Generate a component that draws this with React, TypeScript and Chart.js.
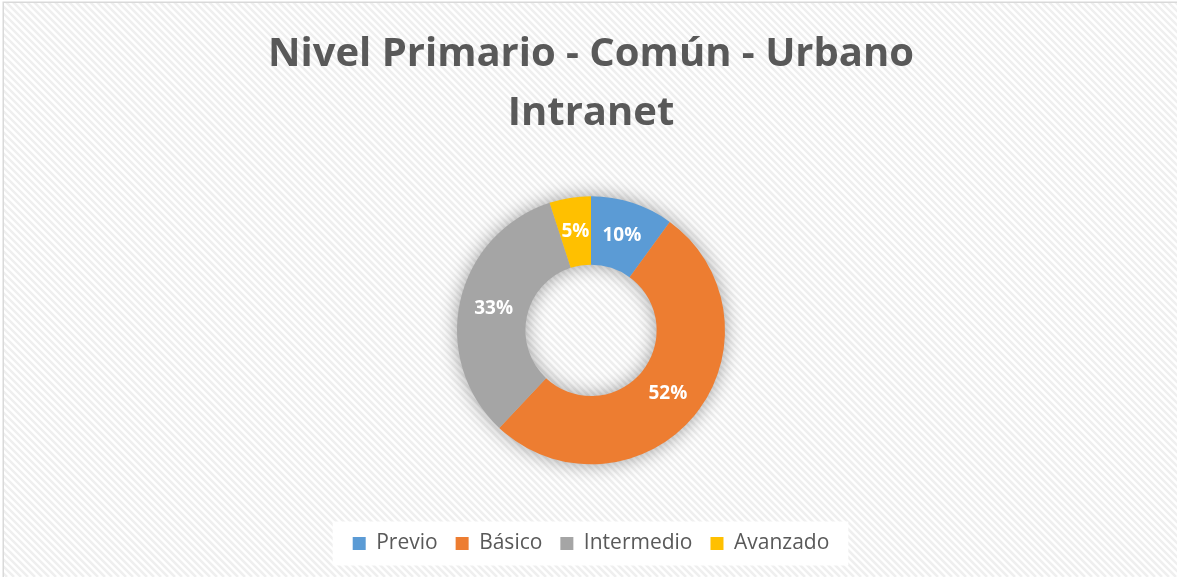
import { useEffect, useRef } from 'react';
import { Chart, registerables } from 'chart.js';

Chart.register(...registerables);

const titleLines = ['Nivel Primario - Común - Urbano', 'Intranet'];
const categories = ['Previo', 'Básico', 'Intermedio', 'Avanzado'];
const values = [10, 52, 33, 5];
const colors = ['#5B9BD5', '#ED7D31', '#A5A5A5', '#FFC000'];
const FONT = "'Open Sans', 'Noto Sans', sans-serif";
const TEXT_GRAY = '#595959';

const backgroundPlugin = {
  id: 'excelBackground',
  beforeDraw(chart: any) {
    const { ctx, width, height } = chart;
    ctx.save();
    ctx.fillStyle = '#ffffff';
    ctx.fillRect(0, 0, width, height);
    ctx.beginPath();
    ctx.rect(3, 2, width, height);
    ctx.clip();
    ctx.strokeStyle = '#efefef';
    ctx.lineWidth = 2.5;
    for (let k = -height; k < width; k += 7) {
      ctx.beginPath();
      ctx.moveTo(k, 0);
      ctx.lineTo(k + height, height);
      ctx.stroke();
    }
    ctx.restore();
    ctx.save();
    ctx.strokeStyle = '#d9d9d9';
    ctx.lineWidth = 1.5;
    ctx.strokeRect(3.25, 2.25, width + 10, height + 10);
    ctx.restore();

    const lg = chart.legend;
    if (lg && lg.legendHitBoxes && lg.legendHitBoxes.length) {
      const boxes = lg.legendHitBoxes;
      let minX = Infinity, maxX = -Infinity, minY = Infinity, maxY = -Infinity;
      boxes.forEach((b: any) => {
        minX = Math.min(minX, b.left);
        maxX = Math.max(maxX, b.left + b.width);
        minY = Math.min(minY, b.top);
        maxY = Math.max(maxY, b.top + b.height);
      });
      const cy = (minY + maxY) / 2;
      ctx.save();
      ctx.fillStyle = '#ffffff';
      ctx.fillRect(minX - 20, cy - 22, maxX - minX + 39, 44);
      ctx.restore();
    }
  },
};

const ringShadowPlugin = {
  id: 'ringShadow',
  beforeDatasetsDraw(chart: any) {
    const meta = chart.getDatasetMeta(0);
    const arc = meta.data[0];
    if (!arc) return;
    const { x, y, outerRadius, innerRadius } = arc;
    const { ctx } = chart;
    ctx.save();
    ctx.shadowColor = 'rgba(0,0,0,0.4)';
    ctx.shadowBlur = 20;
    ctx.fillStyle = '#bbbbbb';
    ctx.beginPath();
    ctx.arc(x, y, outerRadius - 1, 0, Math.PI * 2);
    ctx.arc(x, y, innerRadius + 1, 0, Math.PI * 2, true);
    ctx.closePath();
    ctx.fill();
    ctx.restore();
  },
};

const labelPlugin = {
  id: 'sliceLabels',
  afterDatasetsDraw(chart: any) {
    const { ctx } = chart;
    const meta = chart.getDatasetMeta(0);
    const total = values.reduce((a, b) => a + b, 0);
    ctx.save();
    ctx.fillStyle = '#ffffff';
    ctx.font = `bold 19px ${FONT}`;
    ctx.textAlign = 'center';
    ctx.textBaseline = 'middle';
    meta.data.forEach((el: any, i: number) => {
      const pos = el.tooltipPosition();
      const pct = Math.round((values[i] / total) * 100);
      ctx.fillText(`${pct}%`, pos.x, pos.y);
    });
    ctx.restore();
  },
};

export default function App() {
  const canvasRef = useRef<HTMLCanvasElement>(null);

  useEffect(() => {
    document.body.style.margin = '0';
    const canvas = canvasRef.current;
    if (!canvas) return;
    const chart = new Chart(canvas, {
      type: 'doughnut',
      data: {
        labels: categories,
        datasets: [
          {
            data: values,
            backgroundColor: colors,
            borderWidth: 0,
            radius: 134,
          } as any,
        ],
      },
      options: {
        animation: false,
        responsive: false,
        maintainAspectRatio: false,
        cutout: '49%',
        layout: { padding: { left: 5, right: 0, top: 0, bottom: 13 } },
        plugins: {
          title: {
            display: true,
            text: titleLines,
            color: TEXT_GRAY,
            font: { family: FONT, size: 40, weight: 'bold', lineHeight: 1.47 },
            padding: { top: 25, bottom: 3 },
          },
          legend: {
            display: true,
            position: 'bottom',
            labels: {
              color: TEXT_GRAY,
              font: { family: FONT, size: 21 },
              boxWidth: 13,
              boxHeight: 13,
              padding: 18,
            },
          },
          tooltip: { enabled: false },
        },
      } as any,
      plugins: [backgroundPlugin, ringShadowPlugin, labelPlugin],
    });
    return () => chart.destroy();
  }, []);

  return (
    <div style={{ width: 1177, height: 577 }}>
      <canvas ref={canvasRef} width={1177} height={577} style={{ display: 'block' }} />
    </div>
  );
}
